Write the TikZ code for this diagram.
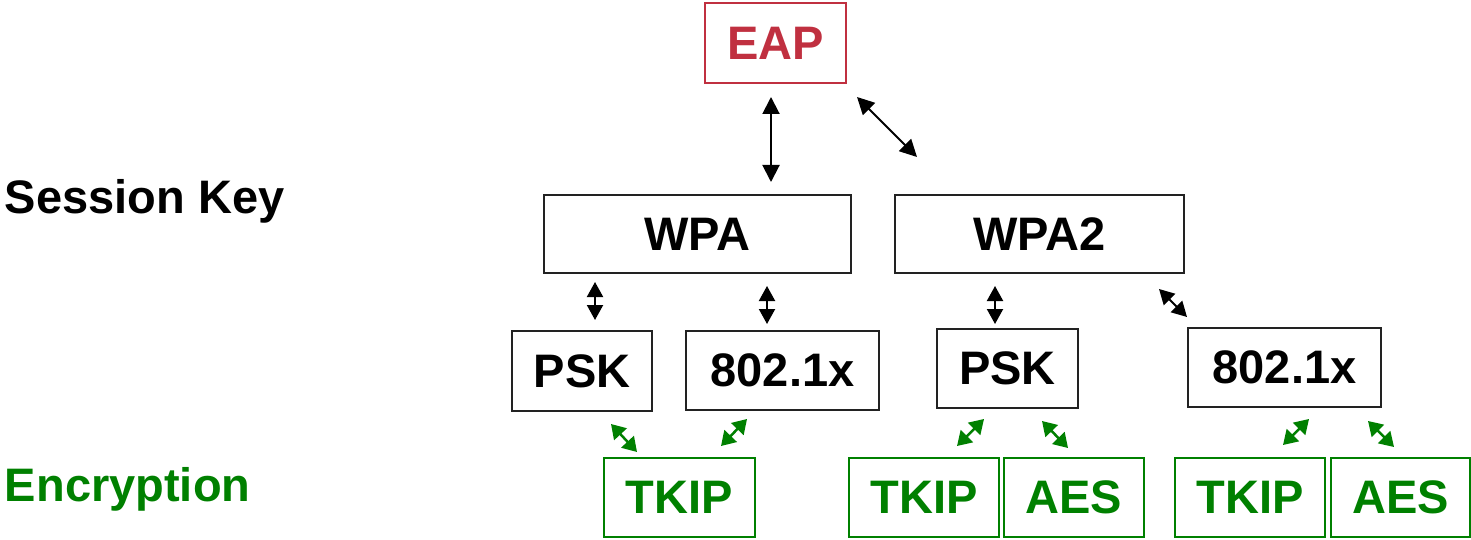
\documentclass[tikz,border=0pt]{standalone}
\usepackage{fontspec}
\setmainfont{Liberation Sans}
\usetikzlibrary{arrows.meta}
\definecolor{eapred}{RGB}{192,48,64}
\definecolor{encgreen}{RGB}{0,128,0}
\definecolor{boxline}{RGB}{34,34,34}
\tikzset{
  lbl/.style={font=\fontsize{47}{56}\selectfont\bfseries, inner sep=0, outer sep=0},
  keybox/.style={draw=boxline, line width=2pt, lbl, text=black},
  eapbox/.style={draw=eapred, line width=2pt, lbl, text=eapred},
  encbox/.style={draw=encgreen, line width=2pt, lbl, text=encgreen},
  bigarrow/.style={line width=2pt, {Triangle[length=17pt,width=17pt]}-{Triangle[length=17pt,width=17pt]}},
  smallarrow/.style={line width=2pt, {Triangle[length=15pt,width=16pt]}-{Triangle[length=15pt,width=16pt]}},
  greenarrow/.style={encgreen, line width=2.5pt, {Triangle[length=14pt,width=17pt]}-{Triangle[length=14pt,width=17pt]}},
}
\begin{document}
\begin{tikzpicture}[x=1pt,y=-1pt]
\useasboundingbox (0,0) rectangle (1471,540);

% side labels
\node[lbl, anchor=base west] (skey) at (5,213) {Session Key};
\node[lbl, anchor=base west, text=encgreen] (enc) at (5,501) {Encryption};

% authentication
\node[eapbox, minimum width=141pt, minimum height=80pt] (eap) at (775.5,43) {EAP};

% protocol level
\node[keybox, minimum width=307pt, minimum height=78pt] (wpa) at (697.5,234) {WPA};
\node[keybox, minimum width=289pt, minimum height=78pt] (wpa2) at (1039.5,234) {WPA2};

% key management
\node[keybox, minimum width=140pt, minimum height=80pt] (psk1) at (582,371) {PSK};
\node[keybox, minimum width=193pt, minimum height=79pt] (dot1) at (782.5,370.5) {802.1x};
\node[keybox, minimum width=141pt, minimum height=79pt] (psk2) at (1007.5,368.5) {PSK};
\node[keybox, minimum width=193pt, minimum height=79pt] (dot2) at (1284.5,367.5) {802.1x};

% ciphers
\node[encbox, minimum width=151pt, minimum height=79pt] (tkip1) at (679.5,497.5) {TKIP};
\node[encbox, minimum width=150pt, minimum height=79pt] (tkip2) at (924,497.5) {TKIP};
\node[encbox, minimum width=140pt, minimum height=79pt] (aes1) at (1074,497.5) {AES};
\node[encbox, minimum width=150pt, minimum height=79pt] (tkip3) at (1250,497.5) {TKIP};
\node[encbox, minimum width=139pt, minimum height=79pt] (aes2) at (1400.5,497.5) {AES};

% arrow end points (the arrows float between the boxes)
\coordinate (eapA) at (771,97);   \coordinate (wpaA) at (771,182);
\coordinate (eapB) at (857,97);   \coordinate (wpa2A) at (917,157);
\coordinate (wpaB) at (595,282);  \coordinate (psk1A) at (595,320);
\coordinate (wpaC) at (767,286);  \coordinate (dot1A) at (767,324);
\coordinate (wpa2B) at (995,286); \coordinate (psk2A) at (995,324);
\coordinate (wpa2C) at (1159,289);\coordinate (dot2A) at (1187,317);
\coordinate (psk1B) at (611,424); \coordinate (tkip1A) at (637,452);
\coordinate (dot1B) at (747,419); \coordinate (tkip1B) at (721,446);
\coordinate (psk2B) at (984,419); \coordinate (tkip2A) at (957,446);
\coordinate (psk2C) at (1042,421);\coordinate (aes1A) at (1068,448);
\coordinate (dot2B) at (1309,419);\coordinate (tkip3A) at (1283,445);
\coordinate (dot2C) at (1368,421);\coordinate (aes2A) at (1394,447);

\draw[bigarrow] (eapA) -- (wpaA);
\draw[bigarrow] (eapB) -- (wpa2A);
\draw[smallarrow] (wpaB) -- (psk1A);
\draw[smallarrow] (wpaC) -- (dot1A);
\draw[smallarrow] (wpa2B) -- (psk2A);
\draw[smallarrow] (wpa2C) -- (dot2A);

\draw[greenarrow] (psk1B) -- (tkip1A);
\draw[greenarrow] (dot1B) -- (tkip1B);
\draw[greenarrow] (psk2B) -- (tkip2A);
\draw[greenarrow] (psk2C) -- (aes1A);
\draw[greenarrow] (dot2B) -- (tkip3A);
\draw[greenarrow] (dot2C) -- (aes2A);
\end{tikzpicture}
\end{document}
